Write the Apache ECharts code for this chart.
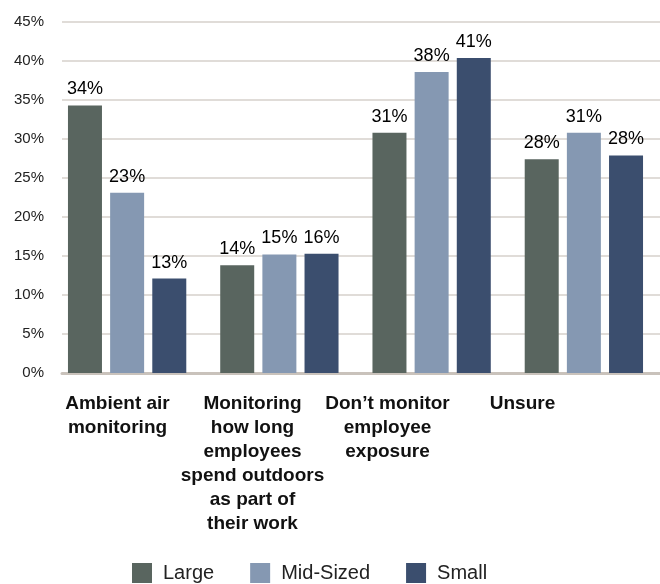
<!DOCTYPE html>
<html>
<head>
<meta charset="utf-8">
<script src="https://cdn.jsdelivr.net/npm/echarts@6/dist/echarts.min.js"></script>
<style>
  html, body { margin: 0; padding: 0; background: #fff; }
  #chart { width: 660px; height: 584px; }
</style>
</head>
<body>
<div id="chart"></div>
<script>
// categories (line breaks as in the original)
const categories = [
  "Ambient air\nmonitoring",
  "Monitoring\nhow long\nemployees\nspend outdoors\nas part of\ntheir work",
  "Don\u2019t monitor\nemployee\nexposure",
  "Unsure"
];

// bar heights
const large = [34.3, 13.8, 30.8, 27.4];
const midSized = [23.1, 15.2, 38.6, 30.8];
const small = [12.1, 15.3, 40.4, 27.9];

// printed labels
const largeLabels = [34, 14, 31, 28];
const midLabels = [23, 15, 38, 31];
const smallLabels = [13, 16, 41, 28];

const colors = ["#59655f", "#8598b2", "#3b4e6e"];
const sans = "'Liberation Sans', Arial, sans-serif";

const barLabel = (labels) => ({
  show: true,
  position: "top",
  distance: 7,
  fontFamily: sans,
  fontSize: 18,
  color: "#000",
  formatter: (p) => labels[p.dataIndex] + "%",
});

const option = {
  animation: false,
  legend: {
    left: 127,
    top: 558,
    itemWidth: 20,
    itemHeight: 20,
    itemGap: 36,
    icon: "rect",
    textStyle: {
      fontFamily: sans,
      fontSize: 20,
      color: "#222",
      padding: [0, 0, 0, 6],
    },
    data: ["Large", "Mid-Sized", "Small"],
  },
  grid: [
    // bars
    { left: 51, width: 615, top: 22, bottom: 211 },
    // category labels only (they sit left of the bars in the original)
    { left: 50, width: 540, top: 22, bottom: 211 },
    // frame: y labels, gridlines, base line
    { left: 62, right: 0, top: 22, bottom: 211 },
  ],
  xAxis: [
    {
      type: "category",
      gridIndex: 0,
      data: categories,
      axisTick: { show: false },
      axisLabel: { show: false },
      axisLine: { show: false },
    },
    {
      type: "category",
      gridIndex: 1,
      data: categories,
      axisTick: { show: false },
      axisLine: { show: false },
      axisLabel: {
        interval: 0,
        margin: 19,
        fontFamily: sans,
        fontWeight: "bold",
        fontSize: 19,
        lineHeight: 24,
        color: "#111",
        align: "center",
      },
    },
    {
      type: "category",
      gridIndex: 2,
      data: categories,
      axisTick: { show: false },
      axisLabel: { show: false },
      axisLine: { lineStyle: { color: "#c9c2bb", width: 3 } },
    },
  ],
  yAxis: [
    { type: "value", gridIndex: 0, show: false, min: 0, max: 45 },
    { type: "value", gridIndex: 1, show: false, min: 0, max: 45 },
    {
      type: "value",
      gridIndex: 2,
      min: 0,
      max: 45,
      interval: 5,
      axisLine: { show: false },
      axisTick: { show: false },
      axisLabel: {
        margin: 18,
        formatter: "{value}%",
        fontFamily: sans,
        fontSize: 15,
        color: "#222",
      },
      splitLine: { lineStyle: { color: "#d6d1cb", width: 1.5 } },
    },
  ],
  series: [
    {
      name: "Large",
      type: "bar",
      data: large,
      barWidth: 34,
      barGap: "24%",
      itemStyle: { color: colors[0] },
      label: barLabel(largeLabels),
    },
    {
      name: "Mid-Sized",
      type: "bar",
      data: midSized,
      barWidth: 34,
      barGap: "24%",
      itemStyle: { color: colors[1] },
      label: barLabel(midLabels),
    },
    {
      name: "Small",
      type: "bar",
      data: small,
      barWidth: 34,
      barGap: "24%",
      itemStyle: { color: colors[2] },
      label: barLabel(smallLabels),
    },
  ],
};

const myChart = echarts.init(document.getElementById("chart"));
myChart.setOption(option);
</script>
</body>
</html>
